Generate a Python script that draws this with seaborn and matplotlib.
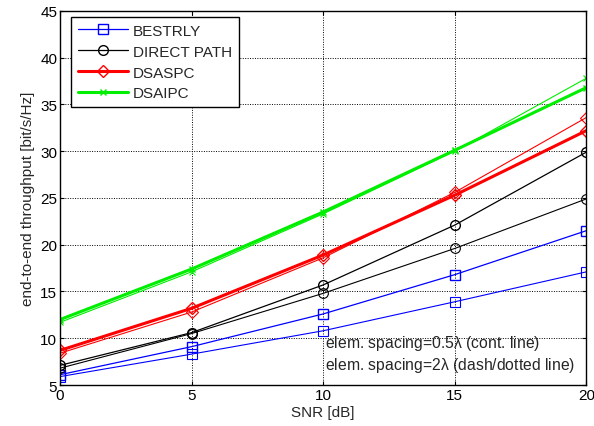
import numpy as np
import pandas as pd
import seaborn as sns
import matplotlib.pyplot as plt

snr = [0, 5, 10, 15, 20]

# element spacing 0.5 lambda
bestrly_05 = [6.1, 9.1, 12.6, 16.8, 21.5]
direct_05 = [7.1, 10.6, 15.7, 22.1, 29.9]
dsaspc_05 = [8.7, 13.2, 18.9, 25.3, 32.2]
dsaipc_05 = [12.0, 17.4, 23.5, 30.1, 36.8]

# element spacing 2 lambda
bestrly_2 = [5.9, 8.3, 10.8, 13.9, 17.1]
direct_2 = [6.8, 10.5, 14.8, 19.6, 24.9]
dsaspc_2 = [8.4, 12.8, 18.6, 25.6, 33.6]
dsaipc_2 = [11.7, 17.1, 23.3, 30.0, 37.8]

labels = ['BESTRLY', 'DIRECT PATH', 'DSASPC', 'DSAIPC']

sns.set_style('white')
plt.rcParams['font.family'] = ['Liberation Sans', 'DejaVu Sans']
plt.rcParams['mathtext.fontset'] = 'custom'
plt.rcParams['mathtext.rm'] = 'Liberation Sans'
plt.rcParams['mathtext.it'] = 'Liberation Sans'

fig = plt.figure(figsize=(5.94, 4.27), dpi=100)
ax = fig.add_axes([0.101, 0.096, 0.886, 0.876])

styles = [
    ('#0000ff', 's', 0.9, 7, 'none'),
    ('#000000', 'o', 0.9, 7, 'none'),
    ('#ff0000', 'D', 2.2, 6, 'none'),
    ('#00ee00', 'x', 2.2, 4, None),
]
series_05 = [bestrly_05, direct_05, dsaspc_05, dsaipc_05]
series_2 = [bestrly_2, direct_2, dsaspc_2, dsaipc_2]

for (c, m, lw, ms, fc), y05, y2, lab in zip(styles, series_05, series_2, labels):
    mfc = fc if fc else c
    sns.lineplot(x=snr, y=y05, ax=ax, color=c, marker=m, linewidth=lw,
                 markersize=ms, markerfacecolor=mfc, markeredgecolor=c,
                 markeredgewidth=1.0, label=lab)
    sns.lineplot(x=snr, y=y2, ax=ax, color=c, marker=m, linewidth=0.8,
                 markersize=ms, markerfacecolor=mfc, markeredgecolor=c,
                 markeredgewidth=0.8, label='_nolegend_')

ax.set_xlim(0, 20)
ax.set_ylim(5, 45)
ax.set_xticks([0, 5, 10, 15, 20])
ax.set_yticks(np.arange(5, 46, 5))
ax.grid(True, color='black', linestyle=(0, (1, 1.5)), linewidth=0.7)
ax.tick_params(axis='both', direction='in', length=3, labelsize=11, pad=2,
               top=True, right=True, bottom=True, left=True, colors='black')
for s in ax.spines.values():
    s.set_color('black')
    s.set_linewidth(1.0)

ax.set_xlabel('SNR [dB]', fontsize=11, labelpad=2)
ax.set_ylabel('end-to-end throughput [bit/s/Hz]', fontsize=11, labelpad=4)

leg = ax.legend(loc='upper left', bbox_to_anchor=(11 / 526, 1 - 6 / 374),
                borderaxespad=0, fontsize=11, frameon=True, fancybox=False,
                edgecolor='black', framealpha=1, handlelength=3.3,
                handletextpad=0.3, labelspacing=0.45, borderpad=0.45)
leg.get_frame().set_linewidth(1.0)

ax.text(0.504, 0.029,
        'elem. spacing=0.5$\\lambda$ (cont. line)\nelem. spacing=2$\\lambda$ (dash/dotted line)',
        transform=ax.transAxes, fontsize=11.3, ha='left', va='bottom',
        linespacing=1.2)

fig.savefig('out.png', dpi=100)
